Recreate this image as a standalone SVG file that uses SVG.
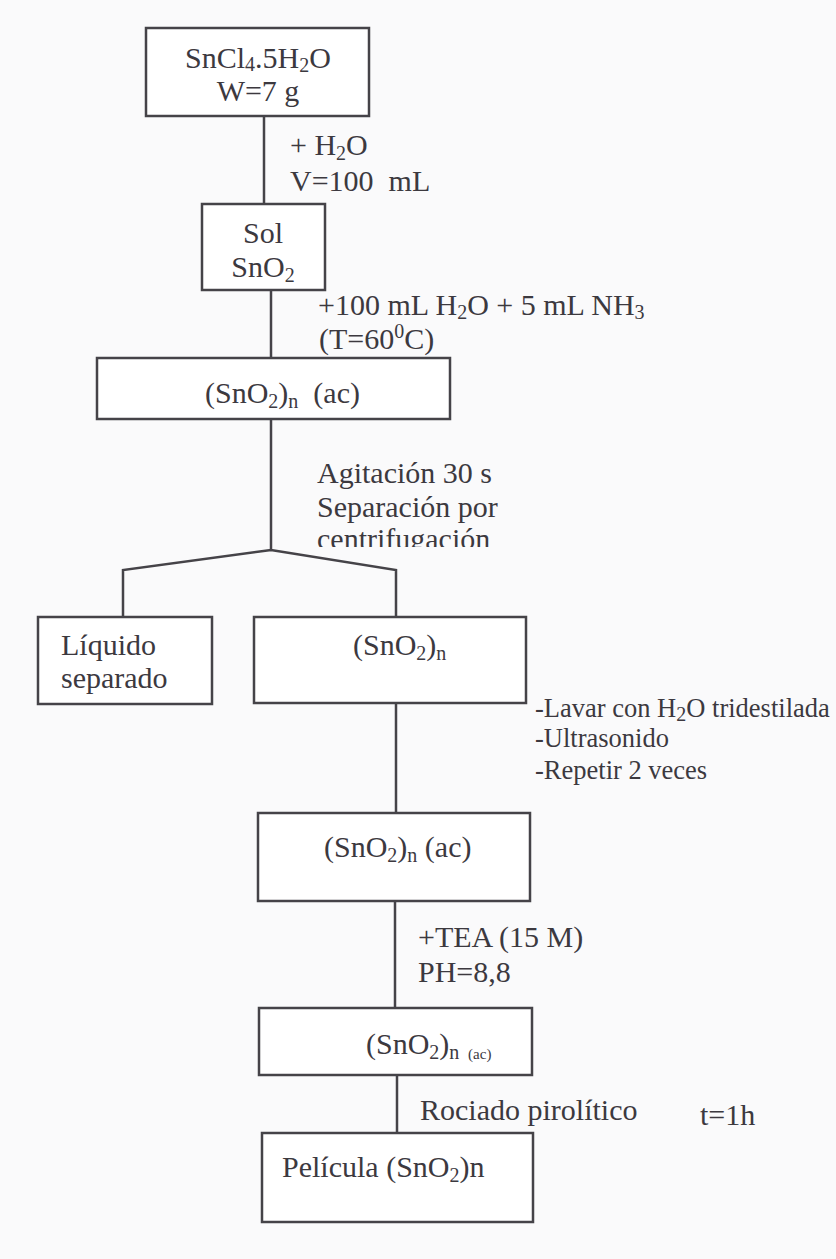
<svg xmlns="http://www.w3.org/2000/svg" width="836" height="1259" viewBox="0 0 836 1259">
<style>
.box{fill:#ffffff;stroke:#454348;stroke-width:2.5}
.ln{fill:none;stroke:#454348;stroke-width:2.5;stroke-linejoin:miter}
text{font-family:"Liberation Serif","Times New Roman",serif;font-size:30px;fill:#3c393f;white-space:pre}
.c{text-anchor:middle}
.sm{font-size:26.5px}
.sub{font-size:20px}
.tiny{font-size:15px}
</style>
<defs>
<clipPath id="cut"><rect x="300" y="520" width="300" height="27"/></clipPath>
</defs>
<rect x="0" y="0" width="836" height="1259" fill="#fafafb"/>

<g id="connectors">
<line class="ln" x1="264" y1="116" x2="264" y2="204"/>
<line class="ln" x1="271" y1="290" x2="271" y2="358"/>
<line class="ln" x1="271" y1="419" x2="271" y2="550"/>
<polyline class="ln" points="123,617 123,570 271,550 396,570 396,617"/>
<line class="ln" x1="396" y1="703" x2="396" y2="813"/>
<line class="ln" x1="395" y1="901" x2="395" y2="1008"/>
<line class="ln" x1="397" y1="1075" x2="397" y2="1133"/>
</g>

<g id="labels">
<text x="290" y="155">+ H<tspan class="sub" dy="5">2</tspan><tspan dy="-5">O</tspan></text>
<text x="290" y="191">V=100  mL</text>
<text x="318" y="315">+100 mL H<tspan class="sub" dy="4">2</tspan><tspan dy="-4">O + 5 mL NH</tspan><tspan class="sub" dy="4">3</tspan></text>
<text x="319" y="349">(T=60<tspan class="sub" dy="-11">0</tspan><tspan dy="11">C)</tspan></text>
<text x="317" y="483">Agitación 30 s</text>
<text x="317" y="517">Separación por</text>
<text x="317" y="549" clip-path="url(#cut)">centrifugación</text>
<text class="sm" x="535" y="717">-Lavar con H<tspan class="sub" dy="4">2</tspan><tspan dy="-4">O tridestilada</tspan></text>
<text class="sm" x="535" y="747">-Ultrasonido</text>
<text class="sm" x="535" y="779">-Repetir 2 veces</text>
<text x="418" y="947">+TEA (15 M)</text>
<text x="418" y="982">PH=8,8</text>
<text x="420" y="1120">Rociado pirolítico</text>
<text x="700" y="1125">t=1h</text>
</g>

<g id="n1">
<rect class="box" x="146" y="28" width="223" height="88"/>
<text class="c" x="258" y="68">SnCl<tspan class="sub" dy="3">4</tspan><tspan dy="-3">.5H</tspan><tspan class="sub" dy="4">2</tspan><tspan dy="-4">O</tspan></text>
<text class="c" x="258" y="101">W=7 g</text>
</g>

<g id="n2">
<rect class="box" x="202" y="204" width="123" height="86"/>
<text class="c" x="263" y="243">Sol</text>
<text class="c" x="263" y="277">SnO<tspan class="sub" dy="5">2</tspan></text>
</g>

<g id="n3">
<rect class="box" x="97" y="358" width="353" height="61"/>
<text x="205" y="403">(SnO<tspan class="sub" dy="5">2</tspan><tspan dy="-5">)</tspan><tspan class="sub" dy="5">n</tspan><tspan dy="-5">  (ac)</tspan></text>
</g>

<g id="n4">
<rect class="box" x="38" y="617" width="174" height="87"/>
<text x="61" y="655">Líquido</text>
<text x="61" y="688">separado</text>
</g>

<g id="n5">
<rect class="box" x="254" y="617" width="272" height="86"/>
<text x="353" y="655">(SnO<tspan class="sub" dy="5">2</tspan><tspan dy="-5">)</tspan><tspan class="sub" dy="5">n</tspan></text>
</g>

<g id="n6">
<rect class="box" x="258" y="813" width="272" height="88"/>
<text x="324" y="857">(SnO<tspan class="sub" dy="5">2</tspan><tspan dy="-5">)</tspan><tspan class="sub" dy="5">n</tspan><tspan dy="-5"> (ac)</tspan></text>
</g>

<g id="n7">
<rect class="box" x="259" y="1008" width="273" height="67"/>
<text x="366" y="1054">(SnO<tspan class="sub" dy="5">2</tspan><tspan dy="-5">)</tspan><tspan class="sub" dy="5">n</tspan><tspan class="tiny" dx="5"> (ac)</tspan></text>
</g>

<g id="n8">
<rect class="box" x="262" y="1133" width="271" height="89"/>
<text x="282" y="1177">Película (SnO<tspan class="sub" dy="5">2</tspan><tspan dy="-5">)n</tspan></text>
</g>
</svg>
